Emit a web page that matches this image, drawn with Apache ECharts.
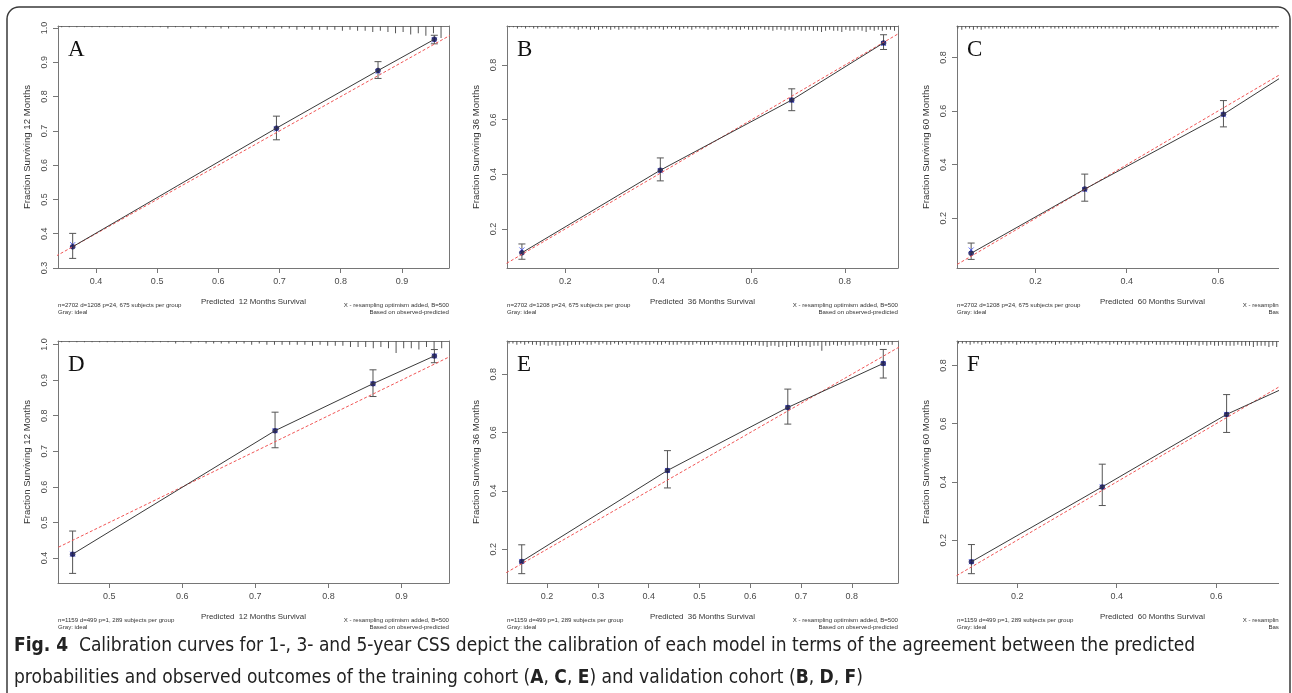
<!DOCTYPE html>
<html>
<head>
<meta charset="utf-8">
<title>Fig. 4 calibration curves</title>
<script src="https://cdn.jsdelivr.net/npm/echarts@6/dist/echarts.min.js"></script>
<style>
    html, body { margin: 0; padding: 0; background: #fff; }
    #chart { width: 1292px; height: 693px; }
</style>
</head>
<body>
<div id="chart"></div>
<script>
// ---- values ----
// mean predicted per group, observed fraction, error bar ends, bias corrected ("X")
var predA = [0.362, 0.695, 0.861, 0.953];
var obsA  = [0.362, 0.708, 0.876, 0.967];
var lowA  = [0.328, 0.674, 0.853, 0.954];
var highA = [0.401, 0.743, 0.902, 0.979];
var corrA = [0.368, 0.705, 0.873, 0.965];

var predB = [0.107, 0.404, 0.686, 0.883];
var obsB  = [0.113, 0.415, 0.672, 0.881];
var lowB  = [0.089, 0.376, 0.633, 0.857];
var highB = [0.145, 0.460, 0.713, 0.911];
var corrB = [0.123, 0.413, 0.670, 0.879];

var predC = [0.059, 0.308, 0.612, 0.853];
var obsC  = [0.070, 0.309, 0.588, 0.850];
var lowC  = [0.047, 0.264, 0.541, 0.818];
var highC = [0.108, 0.365, 0.639, 0.883];
var corrC = [0.082, 0.307, 0.586, 0.848];

var predD = [0.450, 0.727, 0.861, 0.945];
var obsD  = [0.411, 0.758, 0.890, 0.968];
var lowD  = [0.357, 0.710, 0.854, 0.949];
var highD = [0.476, 0.810, 0.929, 0.986];
var corrD = [0.411, 0.758, 0.890, 0.968];

var predE = [0.150, 0.437, 0.674, 0.862];
var obsE  = [0.158, 0.470, 0.686, 0.837];
var lowE  = [0.116, 0.410, 0.629, 0.787];
var highE = [0.215, 0.538, 0.749, 0.885];
var corrE = [0.158, 0.470, 0.686, 0.837];

var predF = [0.108, 0.371, 0.621, 0.836];
var obsF  = [0.126, 0.383, 0.632, 0.800];
var lowF  = [0.085, 0.319, 0.570, 0.745];
var highF = [0.185, 0.461, 0.700, 0.853];
var corrF = [0.126, 0.383, 0.632, 0.800];

// ideal line (y = x)
var ideal = [[0, 0], [1, 1]];

// axis limits and tick labels
var xRangeA = [0.338, 0.977], yRangeA = [0.300, 1.006];
var xRangeB = [0.075, 0.914], yRangeB = [0.057, 0.943];
var xRangeC = [0.028, 0.885], yRangeC = [0.015, 0.917];
var xRangeD = [0.430, 0.965], yRangeD = [0.330, 1.010];
var xRangeE = [0.121, 0.891], yRangeE = [0.084, 0.914];
var xRangeF = [0.079, 0.865], yRangeF = [0.053, 0.884];

var xTicksA = [0.4, 0.5, 0.6, 0.7, 0.8, 0.9];
var yTicksA = [0.3, 0.4, 0.5, 0.6, 0.7, 0.8, 0.9, 1.0];
var xTicksB = [0.2, 0.4, 0.6, 0.8];
var yTicksB = [0.2, 0.4, 0.6, 0.8];
var xTicksC = [0.2, 0.4, 0.6, 0.8];
var yTicksC = [0.2, 0.4, 0.6, 0.8];
var xTicksD = [0.5, 0.6, 0.7, 0.8, 0.9];
var yTicksD = [0.4, 0.5, 0.6, 0.7, 0.8, 0.9, 1.0];
var xTicksE = [0.2, 0.3, 0.4, 0.5, 0.6, 0.7, 0.8];
var yTicksE = [0.2, 0.4, 0.6, 0.8];
var xTicksF = [0.2, 0.4, 0.6, 0.8];
var yTicksF = [0.2, 0.4, 0.6, 0.8];

// distribution of predicted values (spikes along the top), bin start / width / heights
var rugStartA = 0.344, rugStepA = 0.0124;
var rugA = [1,1,1,1,1,1,1,1,1,1, 1,1,1,1,2,1,1,2,1,2, 1,2,2,1,2,2,2,2,2,2,
            2,3,2,3,3,3,3,4,3,4, 4,5,4,5,6,5,7,6,8,6, 10];
var rugStartB = 0.08, rugStepB = 0.0087;
var rugB = [1,1,2,1,2,1,2,2,1,2, 2,1,2,2,1,2,2,3,2,2, 3,2,3,2,2,3,2,3,2,2,
            2,3,2,2,3,2,2,2,3,2, 2,2,3,2,2,3,2,2,2,3, 2,3,2,2,3,2,3,3,2,3,
            3,3,2,3,3,4,3,3,4,3, 4,3,4,4,3,4,4,5,4,3, 4,4,5,3,4,4,3,4,5,3,
            4,3,4,3,3,4];
var rugStartC = 0.03, rugStepC = 0.0085;
var rugC = [2,3,2,2,3,2,3,2,2,2, 2,2,2,2,2,2,2,2,2,2, 2,2,2,1,2,2,2,2,2,2,
            2,2,2,2,2,2,2,2,2,2, 2,2,2,3,2,2,2,2,2,2, 2,2,3,2,2,2,2,2,2,2,
            2,2,2,2,2,2,2,2,3,2, 2,2,2,2,2,2,2,3,2,2, 2,2,2,2];
var rugStartD = 0.435, rugStepD = 0.0104;
var rugD = [1,1,1,1,1,1,1,1,1,1, 1,1,1,1,1,2,1,2,1,2, 2,2,2,2,2,3,2,3,3,3,
            3,3,3,4,3,4,4,4,5,5, 5,6,5,6,10,6,6,7,5,7, 6];
var rugStartE = 0.125, rugStepE = 0.0077;
var rugE = [2,2,3,2,3,2,3,3,4,3, 4,3,4,4,3,4,3,3,3,2, 3,3,2,3,2,3,3,2,3,2,
            3,2,3,3,2,3,3,2,3,3, 2,3,3,3,2,3,3,3,2,3, 3,3,3,2,3,3,3,3,3,3,
            4,3,4,3,4,4,5,4,4,5, 4,5,4,4,5,4,4,5,4,4, 8,4,4,3,4,3,4,3,4,3,
            3,4,3,3,4,3,3,3,3];
var rugStartF = 0.082, rugStepF = 0.0078;
var rugF = [2,2,2,3,2,2,3,2,2,2, 2,3,2,2,2,3,2,2,2,2, 3,2,2,2,2,3,2,2,2,3,
            2,2,3,2,2,2,3,2,2,3, 2,3,2,3,3,2,3,2,3,3, 2,3,3,3,3,2,3,3,3,4,
            3,3,4,3,4,3,4,4,3,4, 4,4,3,4,4,4,5,4,4,4, 5,4,5,4];

// texts
var noteTrain = 'n=2702 d=1208 p=24, 675 subjects per group';
var noteValid = 'n=1159 d=499 p=1, 289 subjects per group';
var noteGray = 'Gray: ideal';
var noteX = 'X - resampling optimism added, B=500';
var noteBased = 'Based on observed-predicted';
var caption1 = '{b|Fig. 4}  Calibration curves for 1-, 3- and 5-year CSS depict the calibration of each model in terms of the agreement between the predicted';
var caption2 = 'probabilities and observed outcomes of the training cohort ({b|A}, {b|C}, {b|E}) and validation cohort ({b|B}, {b|D}, {b|F})';

var panels = [
    {letter: 'A', pred: predA, obs: obsA, low: lowA, high: highA, corr: corrA, xr: xRangeA, yr: yRangeA, xt: xTicksA, yt: yTicksA,
        rs: rugStartA, rd: rugStepA, rug: rugA, months: 12, note: noteTrain},
    {letter: 'B', pred: predB, obs: obsB, low: lowB, high: highB, corr: corrB, xr: xRangeB, yr: yRangeB, xt: xTicksB, yt: yTicksB,
        rs: rugStartB, rd: rugStepB, rug: rugB, months: 36, note: noteTrain},
    {letter: 'C', pred: predC, obs: obsC, low: lowC, high: highC, corr: corrC, xr: xRangeC, yr: yRangeC, xt: xTicksC, yt: yTicksC,
        rs: rugStartC, rd: rugStepC, rug: rugC, months: 60, note: noteTrain},
    {letter: 'D', pred: predD, obs: obsD, low: lowD, high: highD, corr: corrD, xr: xRangeD, yr: yRangeD, xt: xTicksD, yt: yTicksD,
        rs: rugStartD, rd: rugStepD, rug: rugD, months: 12, note: noteValid},
    {letter: 'E', pred: predE, obs: obsE, low: lowE, high: highE, corr: corrE, xr: xRangeE, yr: yRangeE, xt: xTicksE, yt: yTicksE,
        rs: rugStartE, rd: rugStepE, rug: rugE, months: 36, note: noteValid},
    {letter: 'F', pred: predF, obs: obsF, low: lowF, high: highF, corr: corrF, xr: xRangeF, yr: yRangeF, xt: xTicksF, yt: yTicksF,
        rs: rugStartF, rd: rugStepF, rug: rugF, months: 60, note: noteValid}
];

// ---- layout ----
var boxes = [[58, 26], [507, 26], [957, 26], [58, 341], [507, 341], [957, 341]];
var boxW = 391, boxH = 242;
var axisColor = '#767676';
var textColor = '#4a4a4a';
var sans = '"Liberation Sans", Arial, sans-serif';

function fmt(v) { return v.toFixed(1); }

function renderErrorBar(params, api) {
    var x = api.value(0);
    var lo = api.coord([x, api.value(1)]);
    var hi = api.coord([x, api.value(2)]);
    var cap = 3.5;
    var st = {stroke: '#555', lineWidth: 1};
    return {
        type: 'group',
        children: [
            {type: 'line', shape: {x1: hi[0], y1: hi[1], x2: lo[0], y2: lo[1]}, style: st},
            {type: 'line', shape: {x1: hi[0] - cap, y1: hi[1], x2: hi[0] + cap, y2: hi[1]}, style: st},
            {type: 'line', shape: {x1: lo[0] - cap, y1: lo[1], x2: lo[0] + cap, y2: lo[1]}, style: st}
        ]
    };
}

var grids = [], xAxes = [], yAxes = [], series = [], graphics = [];

panels.forEach(function (p, i) {
    var left = boxes[i][0], top = boxes[i][1];
    // right column runs past the page edge, so the grid must not be squeezed into the container
    grids.push({left: left, top: top, width: boxW, height: boxH, outerBoundsMode: 'none', containLabel: false});

    // bottom axis
    xAxes.push({
        type: 'value', gridIndex: i, position: 'bottom', min: p.xr[0], max: p.xr[1],
        name: 'Predicted  ' + p.months + ' Months Survival', nameLocation: 'middle', nameGap: 30,
        nameTextStyle: {fontFamily: sans, fontSize: 7.9, color: '#333'},
        axisLine: {show: true, onZero: false, lineStyle: {color: axisColor}},
        axisTick: {show: true, length: 5, customValues: p.xt, lineStyle: {color: axisColor}},
        axisLabel: {customValues: p.xt, formatter: fmt, margin: 9, fontFamily: sans, fontSize: 9, color: textColor},
        splitLine: {show: false}
    });
    // top border
    xAxes.push({
        type: 'value', gridIndex: i, position: 'top', min: p.xr[0], max: p.xr[1],
        axisLine: {show: true, onZero: false, lineStyle: {color: axisColor}},
        axisTick: {show: false}, axisLabel: {show: false}, splitLine: {show: false}
    });
    // left axis
    yAxes.push({
        type: 'value', gridIndex: i, position: 'left', min: p.yr[0], max: p.yr[1],
        name: 'Fraction Surviving ' + p.months + ' Months', nameLocation: 'middle', nameGap: 26,
        nameTextStyle: {fontFamily: sans, fontSize: 9.6, color: '#333'},
        axisLine: {show: true, onZero: false, lineStyle: {color: axisColor}},
        axisTick: {show: true, length: 5, customValues: p.yt, lineStyle: {color: axisColor}},
        axisLabel: {customValues: p.yt, formatter: fmt, rotate: 90, margin: 9, fontFamily: sans, fontSize: 9, color: textColor},
        splitLine: {show: false}
    });
    // right border
    yAxes.push({
        type: 'value', gridIndex: i, position: 'right', min: 0, max: 1,
        axisLine: {show: true, onZero: false, lineStyle: {color: axisColor}},
        axisTick: {show: false}, axisLabel: {show: false}, splitLine: {show: false}
    });
    // spikes hanging from the top
    yAxes.push({
        type: 'value', gridIndex: i, position: 'right', min: 0, max: 200, inverse: true, show: false
    });

    var xa = i * 2, ya = i * 3;
    var pts = p.pred.map(function (x, k) { return [x, p.obs[k]]; });
    var bars = p.pred.map(function (x, k) { return [x, p.low[k], p.high[k]]; });
    var corr = p.pred.map(function (x, k) { return [x, p.corr[k]]; });
    var spikes = p.rug.map(function (h, k) { return [p.rs + k * p.rd, h]; });

    series.push({
        type: 'bar', xAxisIndex: xa, yAxisIndex: ya + 2, data: spikes, barWidth: 1,
        itemStyle: {color: '#555'}, silent: true, animation: false
    });
    series.push({
        type: 'line', xAxisIndex: xa, yAxisIndex: ya, data: ideal, symbol: 'none',
        lineStyle: {color: '#f05555', width: 1, type: [3, 2]}, silent: true, animation: false
    });
    series.push({
        type: 'line', xAxisIndex: xa, yAxisIndex: ya, data: pts, symbol: 'none',
        lineStyle: {color: '#3a3a3a', width: 1}, silent: true, animation: false
    });
    series.push({
        type: 'custom', xAxisIndex: xa, yAxisIndex: ya, data: bars, renderItem: renderErrorBar,
        encode: {x: 0, y: [1, 2]}, silent: true, animation: false
    });
    series.push({
        type: 'scatter', xAxisIndex: xa, yAxisIndex: ya, data: corr,
        symbol: 'path://M0,0L10,10M10,0L0,10', symbolSize: 5,
        itemStyle: {color: 'none', borderColor: '#3a4cff', borderWidth: 1}, silent: true, animation: false
    });
    series.push({
        type: 'scatter', xAxisIndex: xa, yAxisIndex: ya, data: pts, symbol: 'circle', symbolSize: 5.5,
        itemStyle: {color: '#0c0c52'}, silent: true, animation: false
    });

    // panel letter
    graphics.push({
        type: 'text', left: left + 10, top: top + 12,
        style: {text: p.letter, font: '23px "Liberation Serif", "Times New Roman", serif', fill: '#111'}
    });
    // small notes under the plot
    var noteFont = '6.1px ' + sans;
    graphics.push({type: 'text', x: left, y: top + boxH + 37,
        style: {text: p.note, font: noteFont, fill: '#333', textVerticalAlign: 'middle'}});
    graphics.push({type: 'text', x: left, y: top + boxH + 44,
        style: {text: noteGray, font: noteFont, fill: '#333', textVerticalAlign: 'middle'}});
    graphics.push({type: 'text', x: left + boxW, y: top + boxH + 37,
        style: {text: noteX, font: noteFont, fill: '#333', textAlign: 'right', textVerticalAlign: 'middle'}});
    graphics.push({type: 'text', x: left + boxW, y: top + boxH + 44,
        style: {text: noteBased, font: noteFont, fill: '#333', textAlign: 'right', textVerticalAlign: 'middle'}});
});

// the right column is cut off in the source picture
graphics.push({type: 'rect', shape: {x: 1279, y: 12, width: 13, height: 640}, style: {fill: '#fff'}, z: 100});
// frame
graphics.push({type: 'rect', shape: {x: 7, y: 7, width: 1283, height: 720, r: 12},
    style: {fill: 'none', stroke: '#3a3a3a', lineWidth: 1.5}, z: 101});
// caption
var capFamily = '"Liberation Sans Narrow", "DejaVu Sans Condensed", sans-serif';
var capFont = '19px ' + capFamily;
var capRich = {b: {fontWeight: 'bold', fontFamily: capFamily, fontSize: 19, fill: '#222'}};
graphics.push({type: 'text', x: 14, y: 646, z: 102,
    style: {text: caption1, font: capFont, fill: '#222', textVerticalAlign: 'middle', rich: capRich}});
graphics.push({type: 'text', x: 14, y: 678, z: 102,
    style: {text: caption2, font: capFont, fill: '#222', textVerticalAlign: 'middle', rich: capRich}});

var myChart = echarts.init(document.getElementById('chart'), null, {renderer: 'canvas'});
myChart.setOption({
    backgroundColor: '#fff',
    animation: false,
    grid: grids,
    xAxis: xAxes,
    yAxis: yAxes,
    series: series,
    graphic: graphics
});
</script>
</body>
</html>
